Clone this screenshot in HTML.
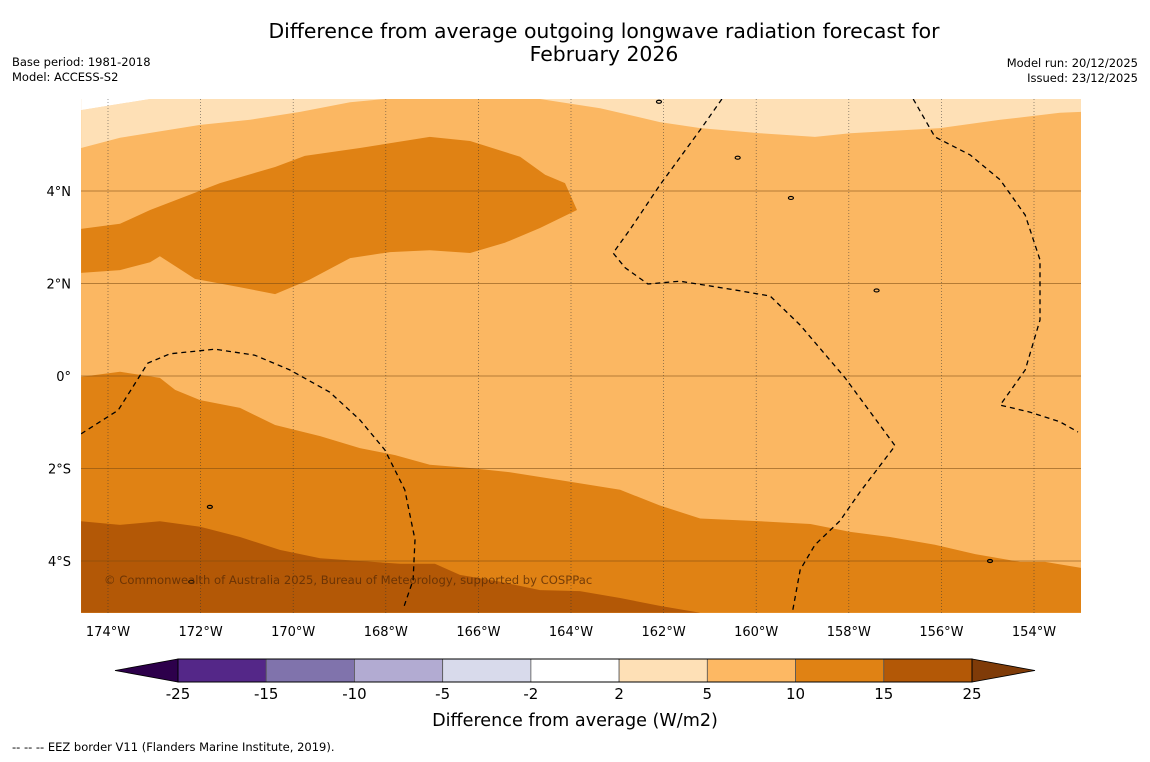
<!DOCTYPE html>
<html><head><meta charset="utf-8"><style>
body{margin:0;background:#fff;width:1150px;height:758px;overflow:hidden;font-family:"DejaVu Sans","Liberation Sans",sans-serif}
</style></head><body>
<svg id="chart" width="1150" height="758" xmlns="http://www.w3.org/2000/svg" font-family="DejaVu Sans, Liberation Sans, sans-serif">
<text x="604" y="38" font-size="20.4" text-anchor="middle">Difference from average outgoing longwave radiation forecast for</text>
<text x="604" y="61" font-size="20.4" text-anchor="middle">February 2026</text>
<text x="12" y="66" font-size="11.5">Base period: 1981-2018</text>
<text x="12" y="81" font-size="11.5">Model: ACCESS-S2</text>
<text x="1138" y="67" font-size="11.5" text-anchor="end">Model run: 20/12/2025</text>
<text x="1138" y="82" font-size="11.5" text-anchor="end">Issued: 23/12/2025</text>
<defs><clipPath id="mapclip"><rect x="81" y="99" width="1000" height="514"/></clipPath></defs>
<g id="map" clip-path="url(#mapclip)"></g>
<g id="axes"></g>
<g id="cbar"></g>
<text x="575" y="726" font-size="17.6" text-anchor="middle">Difference from average (W/m2)</text>
<text x="12" y="751" font-size="11.5">--  --  -- EEZ border V11 (Flanders Marine Institute, 2019).</text>
</svg>
<script>
// ---- data ----
const lonTicks = [-174,-172,-170,-168,-166,-164,-162,-160,-158,-156,-154];
const latTicks = [4,2,0,-2,-4];
const cbarLevels = [-25,-15,-10,-5,-2,2,5,10,15,25];
const cbarColors = ["#542788","#8073ac","#b2abd2","#d8daeb","#ffffff","#fee0b6","#fdb863","#e08214","#b35806"];
const baseLevelColor = "#fbb762";
const lightLeft = [[-174.58,5.75],[-173.09,5.99],[-168.02,5.99],[-168.77,5.92],[-169.85,5.71],[-170.93,5.54],[-172.01,5.43],[-173.74,5.15],[-174.58,4.93]];
const lightRight = [[-164.67,5.99],[-163.37,5.79],[-162.08,5.49],[-161.21,5.36],[-159.92,5.25],[-158.73,5.17],[-157.97,5.25],[-156.03,5.36],[-154.73,5.54],[-153.44,5.69],[-152.98,5.71],[-152.98,5.99]];
const noData = [[-174.58,5.99],[-173.09,5.99],[-174.58,5.75]];
const darkNorth = [[-174.58,3.18],[-173.74,3.29],[-173.09,3.59],[-171.58,4.17],[-170.39,4.52],[-169.75,4.76],[-168.56,4.93],[-167.05,5.17],[-166.18,5.08],[-165.10,4.74],[-164.56,4.35],[-164.13,4.17],[-163.87,3.59],[-164.67,3.20],[-165.43,2.88],[-166.18,2.66],[-167.05,2.72],[-167.91,2.68],[-168.77,2.55],[-169.65,2.08],[-170.39,1.77],[-171.15,1.92],[-172.12,2.10],[-172.88,2.59],[-173.09,2.46],[-173.74,2.29],[-174.58,2.23]];
const darkSouth = [[-174.58,-0.02],[-173.74,0.09],[-172.88,-0.04],[-172.55,-0.30],[-172.01,-0.52],[-171.15,-0.69],[-170.39,-1.06],[-169.42,-1.30],[-168.56,-1.56],[-167.80,-1.71],[-167.05,-1.92],[-166.18,-1.99],[-165.32,-2.08],[-164.24,-2.25],[-162.94,-2.46],[-162.08,-2.80],[-161.21,-3.08],[-159.92,-3.14],[-158.83,-3.20],[-157.97,-3.37],[-157.11,-3.48],[-156.14,-3.65],[-155.27,-3.85],[-154.30,-4.02],[-153.76,-4.02],[-152.98,-4.15],[-152.98,-5.12],[-174.58,-5.12]];
const brownSouth = [[-174.58,-3.14],[-173.74,-3.22],[-172.88,-3.14],[-172.01,-3.26],[-171.15,-3.48],[-170.29,-3.76],[-169.42,-3.94],[-168.56,-4.00],[-167.69,-4.06],[-166.94,-4.06],[-166.40,-4.30],[-165.53,-4.45],[-164.67,-4.63],[-163.81,-4.65],[-162.94,-4.80],[-162.08,-4.97],[-161.21,-5.12],[-174.58,-5.12]];
const eezA = [[-160.74,5.99],[-161.21,5.32],[-162.08,4.13],[-162.73,3.16],[-163.09,2.66],[-162.83,2.34],[-162.34,1.99],[-161.65,2.05],[-160.57,1.88],[-159.70,1.73],[-159.05,1.10],[-158.08,-0.04],[-157.00,-1.51],[-157.76,-2.51],[-158.19,-3.13],[-158.73,-3.65],[-159.05,-4.19],[-159.21,-5.06]];
const eezB = [[-156.61,5.99],[-156.14,5.17],[-155.38,4.78],[-154.73,4.24],[-154.19,3.48],[-153.87,2.51],[-153.87,1.21],[-154.19,0.13],[-154.73,-0.63],[-154.09,-0.78],[-153.44,-0.99],[-153.05,-1.21]];
const eezC = [[-174.58,-1.25],[-173.78,-0.74],[-173.14,0.28],[-172.66,0.48],[-171.69,0.58],[-170.83,0.45],[-170.07,0.13],[-169.21,-0.35],[-168.56,-0.95],[-168.02,-1.60],[-167.59,-2.46],[-167.37,-3.54],[-167.41,-4.41],[-167.61,-4.99]];
const islands = [[-159.25,3.85],[-157.4,1.85],[-171.8,-2.83],[-172.2,-4.45],[-160.4,4.72],[-154.95,-4.0],[-162.1,5.93]];

// ---- scales ----
const X = lon => 108 + (lon + 174) * 46.3;
const Y = lat => 376 - lat * 46.25;
const NS = "http://www.w3.org/2000/svg";
function mk(tag, attrs, parent){const e=document.createElementNS(NS,tag);for(const k in attrs)e.setAttribute(k,attrs[k]);parent.appendChild(e);return e;}
const pts = arr => arr.map(p => X(p[0]).toFixed(1)+","+Y(p[1]).toFixed(1)).join(" ");
const map = document.getElementById("map");
const axes = document.getElementById("axes");

let r = mk("rect",{x:81,y:99,width:1000,height:514,fill:baseLevelColor},map);


const fills = [[lightLeft,"#fee0b6","level-2-5-northwest"],[lightRight,"#fee0b6","level-2-5-northeast"],[noData,"#ffffff","no-data-corner"],[darkNorth,"#e08214","level-10-15-north"],[darkSouth,"#e08214","level-10-15-south"],[brownSouth,"#b35806","level-15-25-south"]];
fills.forEach(f=>{
  const p = mk("polygon",{points:pts(f[0]),fill:f[1]},map);
  
  
});
// grid
lonTicks.forEach(l=>{
  const g = mk("line",{x1:X(l),x2:X(l),y1:99,y2:613,stroke:"#333","stroke-opacity":0.7,"stroke-width":0.7,"stroke-dasharray":"1,2"},map);
  
  
});
latTicks.forEach(l=>{
  const g = mk("line",{x1:81,x2:1081,y1:Y(l),y2:Y(l),stroke:"#7a4a10","stroke-opacity":0.55,"stroke-width":1},map);
  
  
});
// EEZ
[eezA,eezB,eezC].forEach(e=>{
  const l = mk("polyline",{points:pts(e),fill:"none",stroke:"#000","stroke-width":1.3,"stroke-dasharray":"5,4"},map);
  
  
});
islands.forEach(i=>{
  const c = mk("ellipse",{cx:X(i[0]),cy:Y(i[1]),rx:2.5,ry:1.5,fill:"none",stroke:"#000","stroke-width":1.2},map);
  
  
});
const cp = mk("text",{x:104,y:584,"font-size":11.6,fill:"#5a2c05","fill-opacity":0.8},map);
cp.textContent = "© Commonwealth of Australia 2025, Bureau of Meteorology, supported by COSPPac";


// tick labels
lonTicks.forEach(l=>{
  const t = mk("text",{x:X(l),y:636,"font-size":13,"text-anchor":"middle"},axes);
  t.textContent = Math.abs(l)+"°W";
  
  
});
latTicks.forEach(l=>{
  const t = mk("text",{x:71,y:Y(l)+5,"font-size":13,"text-anchor":"end"},axes);
  t.textContent = l===0 ? "0°" : Math.abs(l)+"°"+(l>0?"N":"S");
  
  
});
// colorbar
const cb = document.getElementById("cbar");
const cx0 = 178, cw = (972-178)/cbarColors.length, cy=659, ch=23;
let tl = mk("polygon",{points:`115,${cy+ch/2} ${cx0},${cy} ${cx0},${cy+ch}`,fill:"#2d004b",stroke:"#000","stroke-width":0.8},cb);


let tr = mk("polygon",{points:`1035,${cy+ch/2} 972,${cy} 972,${cy+ch}`,fill:"#7f3b08",stroke:"#000","stroke-width":0.8},cb);


cbarColors.forEach((c,i)=>{
  const s = mk("rect",{x:cx0+i*cw,y:cy,width:cw,height:ch,fill:c,stroke:"#555","stroke-width":0.8},cb);
  
  
});
mk("rect",{x:cx0,y:cy,width:972-cx0,height:ch,fill:"none",stroke:"#000","stroke-width":1},cb);
cbarLevels.forEach((v,i)=>{
  const t = mk("text",{x:cx0+i*cw,y:699,"font-size":15,"text-anchor":"middle"},cb);
  t.textContent = v;
  
  
});
</script>
</body></html>
